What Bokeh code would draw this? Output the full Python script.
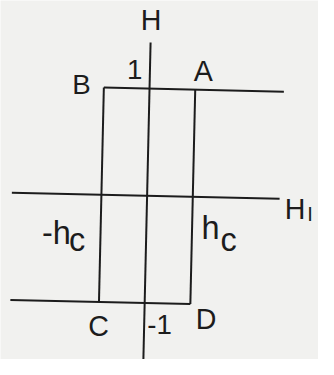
import math
from bokeh.plotting import figure
from bokeh.models import Range1d
from bokeh.core.properties import value
from bokeh.embed import file_html
from bokeh.resources import INLINE

# ---- data: rectangular hysteresis loop (units of h_c and saturation) ----
hc = 1.0
H_sat = 1.0
corner_names = ["A", "B", "C", "D"]
corner_h = [hc, -hc, -hc, hc]
corner_H = [H_sat, H_sat, -H_sat, -H_sat]

# extents of the drawn axes and of the loop's outer branches
h_axis_extent = [-2.96, 2.9]
H_axis_extent = [-1.6, 1.43]
top_branch_end = 2.94
bottom_branch_start = -2.94

# ---- style / layout ----
W, H = 318, 359
K = 0.955                      # scale from a 334x375 drawing to the figure
SX, SY = 45.7, 107.2           # pixels per unit
OX, OY = 146.6, 195.3          # origin position in the figure (px)
TILT = math.radians(1.3)       # slight rotation of the scanned drawing
INK = "#1c1c1c"
BG = "#f1f1ef"
FONT = value("Liberation Sans")


def tilt(x, y):
    u, v = x * SX, y * SY
    c, s = math.cos(TILT), math.sin(TILT)
    return (u * c + v * s) / SX, (-u * s + v * c) / SY


def seg(pts):
    xs, ys = zip(*[tilt(x, y) for x, y in pts])
    return list(xs), list(ys)


p = figure(width=W, height=H, output_backend="svg", toolbar_location=None,
           x_axis_location=None, y_axis_location=None,
           x_range=Range1d(-OX / SX, (W - OX) / SX),
           y_range=Range1d(-(H - OY) / SY, OY / SY),
           min_border=0, background_fill_color=BG, border_fill_color=BG,
           outline_line_color=None)
p.xgrid.visible = False
p.ygrid.visible = False

A = (corner_h[0], corner_H[0])
B = (corner_h[1], corner_H[1])
C = (corner_h[2], corner_H[2])
D = (corner_h[3], corner_H[3])

segments = [
    [(h_axis_extent[0], 0), (h_axis_extent[1], 0)],          # H_I axis
    [(0, H_axis_extent[0]), (0, H_axis_extent[1])],          # H axis
    [B, (top_branch_end, B[1])],                             # upper branch
    [(bottom_branch_start, C[1]), D],                        # lower branch
    [B, C],                                                  # left jump
    [A, D],                                                  # right jump
]
xs, ys = [], []
for s in segments:
    x, y = seg(s)
    xs.append(x)
    ys.append(y)
p.multi_line(xs, ys, line_color=INK, line_width=2)


def label(txt, anchor, dx, dy, size, align="center", baseline="middle"):
    x, y = tilt(*anchor)
    p.text(x=[x], y=[y], text=[txt], x_offset=dx * K, y_offset=dy * K,
           text_font=FONT, text_font_size=value(f"{size * K:.1f}px"),
           text_color=INK, text_align=align, text_baseline=baseline)


top_H = (0, H_axis_extent[1])
right_h = (h_axis_extent[1], 0)

label("H", top_H, 0.4, -23.5, 30)
label("1", (0, H_sat), -15.5, -20, 29)
label("A", A, 8.5, -19.6, 30)
label("B", B, -23.5, -3.5, 29)
label("C", C, -0.5, 25, 30)
label("D", D, 16.5, 15.5, 30)
label("-1", (0, -H_sat), 15.5, 23, 29)

label("H", right_h, 5.5, 10.5, 30, align="left", baseline="alphabetic")
label("I", right_h, 29, 16, 21, align="left", baseline="alphabetic")

label("h", (hc, 0), 9, 33, 34, align="left", baseline="alphabetic")
label("c", (hc, 0), 29, 45, 34, align="left", baseline="alphabetic")
label("-h", (-hc, 0), -32, 40, 34, align="right", baseline="alphabetic")
label("c", (-hc, 0), -34, 47, 34, align="left", baseline="alphabetic")

open("out.html", "w").write(file_html(p, INLINE))
